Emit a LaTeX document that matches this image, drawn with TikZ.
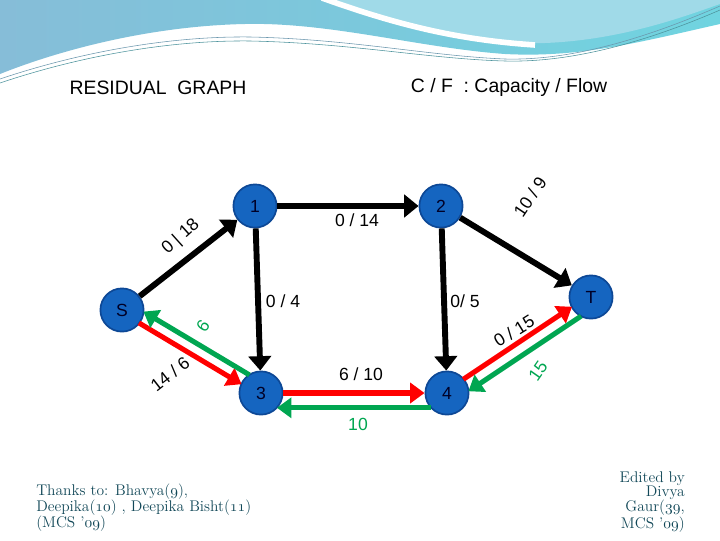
\documentclass[tikz,border=0pt]{standalone}
\usepackage{fontspec}
\newfontfamily\arialfont{Liberation Sans}
\usetikzlibrary{arrows.meta,calc}
\newcommand\osnum[1]{{\fontencoding{OML}\fontfamily{lmm}\fontseries{m}\fontshape{it}\selectfont #1}}
\definecolor{vertexblue}{RGB}{21,101,192}
\definecolor{vertexrim}{RGB}{13,72,150}
\definecolor{flowred}{RGB}{255,0,0}
\definecolor{backgreen}{RGB}{0,166,81}
\definecolor{notecolor}{RGB}{18,72,88}
\definecolor{wavedark}{RGB}{134,189,216}
\definecolor{wavecyan}{RGB}{112,212,224}
\definecolor{wavelight}{RGB}{160,218,232}
\tikzset{
  vertex/.style={circle, fill=vertexblue, draw=vertexrim, line width=1.2pt,
    minimum size=1.08cm, inner sep=0pt, text=black!85!blue,
    font=\arialfont\fontsize{12.5}{14}\selectfont},
  plainedge/.style={line width=4.2pt, -{Triangle[length=0.36cm,width=0.56cm]}},
  flowedge/.style={flowred, line width=3.6pt, -{Triangle[length=0.36cm,width=0.5cm]}},
  backedge/.style={backgreen, line width=3.6pt, -{Triangle[length=0.36cm,width=0.5cm]}},
  edgelabel/.style={font=\arialfont\fontsize{12.5}{14}\selectfont, inner sep=0pt},
  titletext/.style={font=\arialfont\fontsize{13.8}{15}\selectfont}
}
\begin{document}
\begin{tikzpicture}[x=0.025cm, y=-0.025cm]
\useasboundingbox (0,0) rectangle (720,540);
% top wave
\shade[left color=wavedark, right color=wavecyan] (0,0) -- (720,0) -- (720,24)
  .. controls (640,42) and (580,58) .. (505,54)
  .. controls (420,48) and (330,22) .. (245,24)
  .. controls (150,26) and (60,50) .. (0,74) -- cycle;
\fill[wavelight] (335,0) .. controls (420,30) and (480,45) .. (545,43)
  .. controls (620,40) and (680,18) .. (720,4) -- (720,0) -- cycle;
\draw[white, line width=4pt] (322,-2) .. controls (400,26) and (460,40) .. (535,45);
\draw[wavedark!80!black, line width=0.4pt] (0,79) .. controls (80,52) and (170,36) .. (250,37)
  .. controls (350,39) and (430,56) .. (505,59) .. controls (580,61) and (660,32) .. (720,6);
\draw[wavecyan!70!black, line width=0.4pt] (0,83) .. controls (80,56) and (170,40) .. (250,41)
  .. controls (350,43) and (430,59) .. (505,61) .. controls (580,63) and (660,36) .. (720,10);

% vertices
\node[vertex] (S) at (122,310) {S};
\node[vertex] (n1) at (255,206) {1};
\node[vertex] (n2) at (441,206) {2};
\node[vertex] (n3) at (261,393) {3};
\node[vertex] (n4) at (447,393) {4};
\node[vertex] (T) at (591,297) {T};

% edges with no flow back
\draw[plainedge] (S) -- (n1);
\draw[plainedge] (n1) -- (n2);
\draw[plainedge] (n2) -- (T);
\draw[plainedge] (n1) -- (n3);
\draw[plainedge] (n2) -- (n4);

% edges with flow and residual
\draw[flowedge, shorten <=0.53cm, shorten >=0.53cm] ($(S)!0.06cm!-90:(n3)$) -- ($(n3)!0.06cm!90:(S)$);
\draw[backedge, shorten <=0.48cm, shorten >=0.48cm] ($(n3)!0.24cm!-90:(S)$) -- ($(S)!0.24cm!90:(n3)$);
\draw[flowedge] (n3) -- (n4);
\draw[backedge, shorten <=0.4cm, shorten >=0.4cm] ($(n4)!0.37cm!90:(n3)$) -- ($(n3)!0.37cm!-90:(n4)$);
\draw[flowedge, shorten <=0.53cm, shorten >=0.53cm] ($(n4)!0.06cm!90:(T)$) -- ($(T)!0.06cm!-90:(n4)$);
\draw[backedge, shorten <=0.47cm, shorten >=0.47cm] ($(T)!0.26cm!90:(n4)$) -- ($(n4)!0.26cm!-90:(T)$);

% labels
\node[edgelabel, rotate=42] (lS1) at (181,237) {0 | 18};
\node[edgelabel] (l12) at (357,220) {0 / 14};
\node[edgelabel, rotate=56] (l2T) at (530,197) {10 / 9};
\node[edgelabel] (l13) at (283,301) {0 / 4};
\node[edgelabel] (l24) at (465,301) {0/ 5};
\node[edgelabel, rotate=38] (lS3) at (170,374) {14 / 6};
\node[edgelabel, text=backgreen, rotate=55] (l3S) at (203,326) {6};
\node[edgelabel] (l34) at (361,374) {6 / 10};
\node[edgelabel, text=backgreen] (l43) at (358,424) {10};
\node[edgelabel, rotate=32] (l4T) at (514,331) {0 / 15};
\node[edgelabel, text=backgreen, rotate=55] (lT4) at (538,371) {15};

% titles
\node[titletext] (title) at (158,88) {RESIDUAL\ \ GRAPH};
\node[titletext] (legend) at (509,87) {C / F\ \ : Capacity / Flow};

% notes
\node[anchor=north west, align=left, text=notecolor, inner sep=0pt,
  font=\fontsize{11}{11.4}\selectfont] (thanks) at (36,484)
  {Thanks to: Bhavya(\osnum{9}),\\
   Deepika(\osnum{10}) , Deepika Bisht(\osnum{11})\\
   (MCS '\osnum{09})};
\node[anchor=north east, align=right, text=notecolor, inner sep=0pt,
  font=\fontsize{11}{10.6}\selectfont] (edited) at (685,471)
  {Edited by\\ Divya\\ Gaur(\osnum{39},\\ MCS '\osnum{09})};
\end{tikzpicture}
\end{document}
